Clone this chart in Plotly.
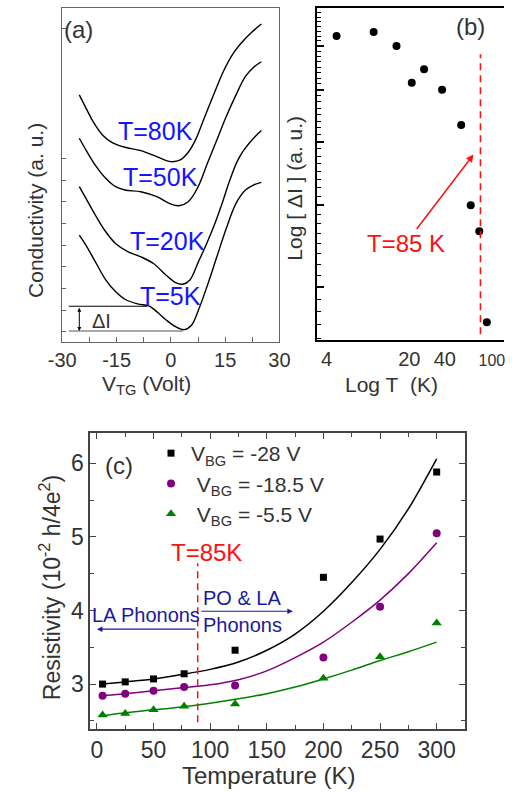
import math
import plotly.graph_objects as go

FONT = "Liberation Sans, Arial, sans-serif"
W, H = 515, 792

# ---------------- Panel (a): conductivity vs V_TG ----------------
V80 = [-25.3, -23.2, -21.5, -18.9, -16.2, -12.7, -8.3, -3.9, 0.0, 2.6, 4.8, 6.8, 9.2, 11.8, 14.5, 17.1, 19.7, 22.4, 25.0]
S80 = [7.40, 6.95, 6.60, 6.20, 5.97, 5.83, 5.73, 5.55, 5.40, 5.45, 5.68, 6.05, 6.70, 7.40, 8.10, 8.62, 8.98, 9.28, 9.52]
V50 = [-25.3, -23.2, -20.6, -18.0, -15.3, -12.7, -8.3, -3.9, -0.4, 2.2, 4.8, 7.4, 10.1, 12.7, 15.3, 18.0, 20.6, 22.8, 25.0]
S50 = [6.10, 5.70, 5.25, 4.90, 4.65, 4.55, 4.50, 4.35, 4.15, 4.08, 4.20, 4.62, 5.35, 6.05, 6.75, 7.40, 7.95, 8.22, 8.39]
V20 = [-25.3, -23.2, -20.6, -18.0, -15.3, -11.8, -8.3, -4.8, -1.3, 1.3, 3.3, 5.2, 7.6, 9.9, 12.0, 14.0, 16.2, 18.3, 20.0, 22.4, 25.0]
S20 = [4.65, 4.25, 3.75, 3.30, 2.95, 2.70, 2.55, 2.35, 2.00, 1.78, 1.73, 1.85, 2.40, 2.95, 3.50, 4.10, 4.82, 5.40, 5.72, 6.05, 6.33]
V5 = [-25.3, -23.2, -20.6, -18.0, -15.3, -12.7, -9.2, -6.1, -3.9, -1.3, 1.3, 3.7, 5.7, 7.6, 10.1, 12.7, 15.3, 18.0, 20.6, 22.8, 25.0]
S5 = [3.20, 2.85, 2.35, 1.86, 1.51, 1.28, 1.14, 1.08, 0.91, 0.66, 0.46, 0.37, 0.50, 0.95, 1.70, 2.55, 3.40, 4.15, 4.55, 4.70, 4.78]
curve_labels = ["T=80K", "T=50K", "T=20K", "T=5K"]
a_xticks = [-30, -22.5, -15, -7.5, 0, 7.5, 15, 22.5, 30]
a_xticktext = ["-30", "", "-15", "", "0", "", "15", "", "30"]
a_yticks = [0.3, 0.95, 1.6, 2.25, 2.9, 3.55, 4.2, 4.85, 5.5, 9.4]
dI_top, dI_bottom = 1.07, 0.33

# ---------------- Panel (b): log dI vs log T ----------------
T_b = [4.86, 10.0, 15.6, 21.0, 26.7, 37.9, 55.0, 66.2, 78.2, 90.6]
dI_b = [7.25, 7.35, 7.00, 6.15, 6.45, 6.00, 5.30, 4.00, 3.65, 2.65]
b_xticks = [4, 20, 40, 100]
b_xticktext = ["4", "20", "40", "<span style='font-size:16px'>100</span>"]
b_major_y = [3, 4, 5, 6, 7]
b_minor_y = [k / 8 for k in range(20, 64) if k % 8 != 0]
T_cross = 80
b_dash_y = [2.54, 6.80]

# ---------------- Panel (c): resistivity vs temperature ----------------
T_c = [5, 25, 50, 77, 122, 200, 250, 300]
rho_28 = [3.00, 3.03, 3.07, 3.14, 3.46, 4.45, 4.97, 5.88]
rho_185 = [2.84, 2.87, 2.91, 2.96, 2.98, 3.36, 4.05, 5.05]
rho_55 = [2.58, 2.60, 2.65, 2.70, 2.73, 3.08, 3.37, 3.83]
T_fit = [5, 25, 50, 75, 100, 125, 150, 175, 200, 225, 250, 275, 300]
fit_28 = [3.00, 3.03, 3.07, 3.13, 3.20, 3.30, 3.46, 3.68, 3.99, 4.38, 4.83, 5.38, 6.06]
fit_185 = [2.84, 2.87, 2.91, 2.95, 2.99, 3.06, 3.18, 3.36, 3.57, 3.84, 4.14, 4.50, 4.92]
fit_55 = [2.57, 2.61, 2.65, 2.69, 2.74, 2.80, 2.87, 2.96, 3.07, 3.19, 3.32, 3.44, 3.57]
series_names = ["V<sub>BG</sub> = -28 V", "\u00a0V<sub>BG</sub> = -18.5 V", "\u00a0V<sub>BG</sub> = -5.5 V"]
c_dash_T = 89
c_dash_y = [2.48, 4.64]


def px(x):
    return x / W


def py(y):
    return 1 - y / H


fig = go.Figure()

# panel (a) curves
for V, S in [(V80, S80), (V50, S50), (V20, S20), (V5, S5)]:
    fig.add_trace(go.Scatter(x=V, y=S, mode="lines", line=dict(color="black", width=1.4, shape="spline", smoothing=1.0),
                             xaxis="x", yaxis="y", showlegend=False, hoverinfo="skip"))

# panel (b)
fig.add_trace(go.Scatter(x=T_b, y=dI_b, mode="markers", marker=dict(color="black", size=8),
                         xaxis="x2", yaxis="y2", showlegend=False))
fig.add_trace(go.Scatter(x=[T_cross, T_cross], y=b_dash_y, mode="lines",
                         line=dict(color="#ff1010", width=1.6, dash="7px,5px"),
                         xaxis="x2", yaxis="y2", showlegend=False))
# invisible trace so the minor-tick overlay axis is drawn
fig.add_trace(go.Scatter(x=[T_cross], y=[b_dash_y[0]], mode="markers", marker=dict(opacity=0),
                         xaxis="x2", yaxis="y4", showlegend=False, hoverinfo="skip"))

# panel (c)
colors = ["black", "#800080", "#008000"]
symbols = ["square", "circle", "triangle-up"]
sizes = [7, 8, 9]
for fit, col in zip([fit_28, fit_185, fit_55], colors):
    fig.add_trace(go.Scatter(x=T_fit, y=fit, mode="lines", line=dict(color=col, width=1.5, shape="spline", smoothing=0.8),
                             xaxis="x3", yaxis="y3", showlegend=False))
for i, (rho, col, sym, sz) in enumerate(zip([rho_28, rho_185, rho_55], colors, symbols, sizes)):
    fig.add_trace(go.Scatter(x=T_c, y=rho, mode="markers", name=series_names[i], legendgroup=f"g{i}",
                             marker=dict(color=col, symbol=sym, size=sz, line=dict(width=0)),
                             xaxis="x3", yaxis="y3"))
fig.add_trace(go.Scatter(x=[c_dash_T, c_dash_T], y=c_dash_y, mode="lines",
                         line=dict(color="#ff1010", width=1.5, dash="7px,5px"),
                         xaxis="x3", yaxis="y3", showlegend=False))

tick_font = dict(family=FONT, size=20, color="#333")
annotations = []


def txt(text, x, y, size, color="#333", angle=0, **kw):
    annotations.append(dict(text=text, x=px(x), y=py(y), xref="paper", yref="paper", showarrow=False,
                            font=dict(family=FONT, size=size, color=color), textangle=angle,
                            xanchor="center", yanchor="middle", **kw))


# panel (a) texts
txt("(a)", 68, 30, 24)
txt("Conductivity (a. u.)", 22, 210, 21, angle=-90)
txt("V<sub>TG</sub> (Volt)", 139, 385, 21)
label_pos = [(149, 131), (154, 177), (161, 241), (165, 296)]
for lab, (lx, ly) in zip(curve_labels, label_pos):
    txt(lab, lx, ly, 25, color="#1414ff")
txt("\u0394I", 92, 321, 20)

# panel (b) texts
txt("(b)", 480, 26, 24)
txt("Log [ \u0394I ] (a. u.)", 295, 188, 21, angle=-90)
txt("Log T&nbsp; (K)", 397, 384, 21)
txt("T=85 K", 412, 243, 24, color="#ff1010")

# panel (c) texts
txt("(c)", 110, 465, 24)
txt("Temperature (K)", 268, 775, 24)
txt("Resistivity (10<sup>-2</sup> h/4e<sup>2</sup>)", 38, 588, 23, angle=-90)
txt("T=85K", 202, 552, 24, color="#ff1010")
navy = "#1a1aa0"
txt("LA Phonons", 139, 615, 20, color=navy)
txt("PO &amp; LA", 240, 598, 20, color=navy)
txt("Phonons", 240, 625, 20, color=navy)

# arrows
annotations.append(dict(x=0, y=3.746, ax=88.2, ay=3.746, xref="x3", yref="y3", axref="x3", ayref="y3",
                        showarrow=True, arrowhead=2, arrowsize=1, arrowwidth=1.1, arrowcolor=navy, text=""))
annotations.append(dict(x=173, y=3.99, ax=90.8, ay=3.99, xref="x3", yref="y3", axref="x3", ayref="y3",
                        showarrow=True, arrowhead=2, arrowsize=1, arrowwidth=1.1, arrowcolor=navy, text=""))
annotations.append(dict(x=1.8447, y=math.log10(4.78), xref="x2", yref="y2", ax=-58, ay=76,
                        showarrow=True, arrowhead=2, arrowsize=1, arrowwidth=1.5, arrowcolor="#ff1010", text=""))
annotations.append(dict(x=-25.3, y=dI_bottom, ax=-25.3, ay=dI_top, xref="x", yref="y", axref="x", ayref="y",
                        showarrow=True, arrowhead=2, arrowsize=0.8, arrowwidth=1, arrowside="end+start",
                        arrowcolor="black", text=""))

shapes = [
    dict(type="line", xref="x", yref="y", x0=-28.2, x1=-6.6, y0=dI_top, y1=dI_top, line=dict(color="black", width=1.2)),
    dict(type="line", xref="x", yref="y", x0=-28.2, x1=3.4, y0=dI_bottom, y1=dI_bottom, line=dict(color="#555", width=1.2)),
]

b_yrange = [0.3962, 0.9031]
fig.update_layout(
    width=W, height=H, autosize=False, margin=dict(l=0, r=0, t=0, b=0),
    paper_bgcolor="white", plot_bgcolor="white",
    font=dict(family=FONT, color="#333"),
    showlegend=True,
    legend=dict(x=px(144), y=py(433), xanchor="left", yanchor="top", bgcolor="rgba(0,0,0,0)",
                font=dict(family=FONT, size=21, color="#333"), tracegroupgap=0),
    annotations=annotations, shapes=shapes,
    xaxis=dict(domain=[px(50), px(279)], range=[-30.2, 30], tickvals=a_xticks, ticktext=a_xticktext,
               ticks="inside", ticklen=5, tickcolor="#666", showline=True, linecolor="#666", linewidth=1.2,
               mirror=True, showgrid=False, zeroline=False, tickfont=tick_font, anchor="y"),
    yaxis=dict(domain=[py(342), py(8)], range=[0, 10], tickvals=a_yticks, showticklabels=False,
               ticks="inside", ticklen=4, tickcolor="#666", showline=True, linecolor="#666", linewidth=1.2,
               mirror=True, showgrid=False, zeroline=False, anchor="x"),
    xaxis2=dict(domain=[px(318), 1.0], type="log", range=[0.5173, 2.1022], tickvals=b_xticks, ticktext=b_xticktext,
                ticks="", showline=True, linecolor="black", linewidth=2, mirror=True, showgrid=False,
                zeroline=False, tickfont=tick_font, anchor="y2"),
    yaxis2=dict(domain=[py(340), py(8)], type="log", range=b_yrange, showticklabels=False,
                ticks="inside", ticklen=7, tickwidth=1.5, tickcolor="black", tickvals=b_major_y,
                showline=True, linecolor="black", linewidth=2, mirror=False, showgrid=False, zeroline=False,
                anchor="x2"),
    yaxis4=dict(domain=[py(340), py(8)], type="log", range=b_yrange, showticklabels=False, overlaying="y2",
                side="left", ticks="inside", ticklen=4, tickwidth=1.2, tickcolor="black", tickvals=b_minor_y,
                showline=False, showgrid=False, zeroline=False, anchor="x2"),
    xaxis3=dict(domain=[px(80), px(474)], range=[-6, 325], tick0=0, dtick=50,
                ticks="inside", ticklen=6, tickcolor="#444", mirror="allticks",
                minor=dict(ticks="inside", ticklen=4, tickcolor="#444", dtick=25, tick0=0, showgrid=False),
                showline=True, linecolor="#444", linewidth=1.5, showgrid=False, zeroline=False,
                tickfont=dict(family=FONT, size=23, color="#333"), anchor="y3"),
    yaxis3=dict(domain=[py(729), py(433)], range=[2.39, 6.41], tick0=0, dtick=1,
                ticks="inside", ticklen=6, tickcolor="#444", mirror="allticks",
                minor=dict(ticks="inside", ticklen=4, tickcolor="#444", dtick=0.5, tick0=0, showgrid=False),
                showline=True, linecolor="#444", linewidth=1.5, showgrid=False, zeroline=False,
                tickfont=dict(family=FONT, size=23, color="#333"), anchor="x3"),
)

# remove the default page margin so the figure sits at the window's top-left corner
fig.write_html("out.html", config={"displayModeBar": False},
               post_script="document.body.style.margin='0px';")
